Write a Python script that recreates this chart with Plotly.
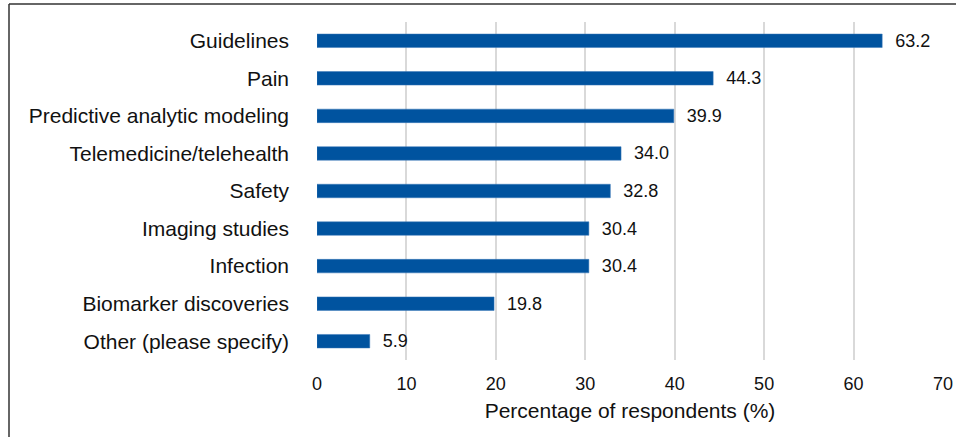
import plotly.graph_objects as go

categories = ["Guidelines", "Pain", "Predictive analytic modeling", "Telemedicine/telehealth",
              "Safety", "Imaging studies", "Infection", "Biomarker discoveries", "Other (please specify)"]
values = [63.2, 44.3, 39.9, 34.0, 32.8, 30.4, 30.4, 19.8, 5.9]
x_ticks = [0, 10, 20, 30, 40, 50, 60, 70]

fig = go.Figure(go.Bar(
    y=categories, x=values, orientation="h",
    marker=dict(color="#00539F", line=dict(color="#3a78b8", width=0.5)),
    text=[f"  {v:.1f}" for v in values], textposition="outside",
    constraintext="none",
    textfont=dict(family="Liberation Sans, Arial", size=18, color="#111"),
    cliponaxis=False,
))

fig.update_layout(
    width=956, height=437,
    margin=dict(l=317, r=13, t=22, b=77),
    paper_bgcolor="white", plot_bgcolor="white",
    bargap=0.64,
    showlegend=False,
    font=dict(family="Liberation Sans, Arial", size=18, color="#111"),
    xaxis=dict(range=[0, 70], tickvals=x_ticks, showgrid=True, gridcolor="#d9d9d9", gridwidth=1.5,
               zeroline=False, showline=False, ticks="", tickfont=dict(size=18),
               ticklabelstandoff=11, automargin=False,
               title=dict(text="Percentage of respondents (%)", font=dict(size=21), standoff=10)),
    yaxis=dict(autorange="reversed", showgrid=False, ticks="", ticklabelstandoff=27,
               tickfont=dict(size=21), zeroline=False, automargin=False),
)

# Frame lines (left and top)
fx = (9 - 317) / 626
fy = 1 + (22 - 4) / 338
fig.add_shape(type="line", xref="paper", yref="paper", x0=fx, x1=fx,
              y0=fy, y1=-(437 - 360 + 5) / 338, line=dict(color="#333", width=1.5))
fig.add_shape(type="line", xref="paper", yref="paper", x0=fx, x1=1.05,
              y0=fy, y1=fy, line=dict(color="#333", width=1.5))

fig.write_html("out.html", config={"displayModeBar": False},
               post_script="document.body.style.margin='0';document.body.style.overflow='hidden';")
